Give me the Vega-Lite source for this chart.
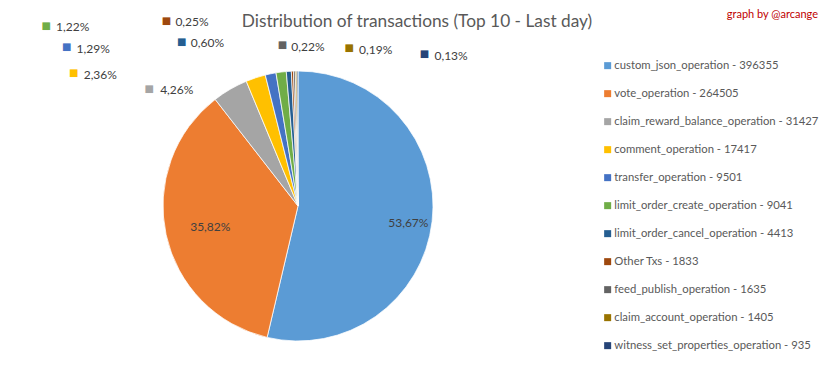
{
  "$schema": "https://vega.github.io/schema/vega-lite/v6.json",
  "width": 596,
  "height": 344,
  "autosize": "none",
  "padding": {"left": 0, "top": 34, "right": 236, "bottom": 1},
  "background": "white",
  "title": {
    "text": "Distribution of transactions (Top 10 - Last day)",
    "font": "Lato",
    "fontSize": 17.3,
    "fontWeight": "normal",
    "color": "#595959",
    "anchor": "middle",
    "frame": "group",
    "dx": 119,
    "offset": -21
  },
  "config": {"view": {"stroke": null}, "font": "Lato"},
  "data": {
    "values": [
      {"op": "custom_json_operation", "count": 396355, "pct": "53,67%", "legend": "custom_json_operation - 396355"},
      {"op": "vote_operation", "count": 264505, "pct": "35,82%", "legend": "vote_operation - 264505"},
      {"op": "claim_reward_balance_operation", "count": 31427, "pct": "4,26%", "legend": "claim_reward_balance_operation - 31427"},
      {"op": "comment_operation", "count": 17417, "pct": "2,36%", "legend": "comment_operation - 17417"},
      {"op": "transfer_operation", "count": 9501, "pct": "1,29%", "legend": "transfer_operation - 9501"},
      {"op": "limit_order_create_operation", "count": 9041, "pct": "1,22%", "legend": "limit_order_create_operation - 9041"},
      {"op": "limit_order_cancel_operation", "count": 4413, "pct": "0,60%", "legend": "limit_order_cancel_operation - 4413"},
      {"op": "Other Txs", "count": 1833, "pct": "0,25%", "legend": "Other Txs - 1833"},
      {"op": "feed_publish_operation", "count": 1635, "pct": "0,22%", "legend": "feed_publish_operation - 1635"},
      {"op": "claim_account_operation", "count": 1405, "pct": "0,19%", "legend": "claim_account_operation - 1405"},
      {"op": "witness_set_properties_operation", "count": 935, "pct": "0,13%", "legend": "witness_set_properties_operation - 935"}
    ]
  },
  "encoding": {
    "theta": {"field": "count", "type": "quantitative", "stack": true},
    "order": {"field": "count", "type": "quantitative", "sort": "descending"}
  },
  "layer": [
    {
      "mark": {"type": "arc", "radius": 135, "stroke": "white", "strokeWidth": 0.75},
      "encoding": {
        "color": {
          "field": "legend",
          "type": "nominal",
          "scale": {
            "domain": [
              "custom_json_operation - 396355",
              "vote_operation - 264505",
              "claim_reward_balance_operation - 31427",
              "comment_operation - 17417",
              "transfer_operation - 9501",
              "limit_order_create_operation - 9041",
              "limit_order_cancel_operation - 4413",
              "Other Txs - 1833",
              "feed_publish_operation - 1635",
              "claim_account_operation - 1405",
              "witness_set_properties_operation - 935"
            ],
            "range": ["#5B9BD5", "#ED7D31", "#A5A5A5", "#FFC000", "#4472C4", "#70AD47", "#255E91", "#9E480E", "#636363", "#997300", "#264478"]
          },
          "legend": {
            "orient": "none",
            "legendX": 602,
            "legendY": -25,
            "title": "graph by @arcange",
            "titleColor": "#C00000",
            "titleFont": "Lato",
            "titleFontSize": 11,
            "titleFontWeight": "normal",
            "titleAnchor": "end",
            "titleAlign": "right",
            "titlePadding": 40,
            "symbolType": "square",
            "symbolSize": 49,
            "symbolStrokeWidth": 0,
            "labelFont": "Lato",
            "labelFontSize": 11.3,
            "labelColor": "#595959",
            "labelOffset": 1,
            "rowPadding": 16,
            "labelLimit": 300
          }
        }
      }
    },
    {
      "mark": {
        "type": "text",
        "radius": 100,
        "align": "center",
        "baseline": "middle",
        "fontSize": 12,
        "fill": "#404040",
        "dx": {"expr": "datum.op == 'custom_json_operation' ? 11 : 10"},
        "dy": {"expr": "datum.op == 'custom_json_operation' ? 5 : 0"}
      },
      "encoding": {
        "text": {"field": "pct", "type": "nominal"},
        "opacity": {"condition": {"test": "datum.count > 100000", "value": 1}, "value": 0}
      }
    },
    {
      "mark": {
        "type": "text",
        "radius": 135,
        "align": "center",
        "baseline": "middle",
        "font": "DejaVu Sans",
        "fontSize": 10,
        "text": "■",
        "dx": {"expr": "{'claim_reward_balance_operation': -81, 'comment_operation': -182, 'transfer_operation': -204, 'limit_order_create_operation': -235, 'limit_order_cancel_operation': -107, 'Other Txs': -126, 'feed_publish_operation': -12, 'claim_account_operation': 53, 'witness_set_properties_operation': 127}[datum.op] || 0"},
        "dy": {"expr": "{'claim_reward_balance_operation': 0, 'comment_operation': -5, 'transfer_operation': -27, 'limit_order_create_operation': -46, 'limit_order_cancel_operation': -29, 'Other Txs': -50, 'feed_publish_operation': -26, 'claim_account_operation': -23, 'witness_set_properties_operation': -17}[datum.op] || 0"}
      },
      "encoding": {
        "color": {"field": "legend", "type": "nominal"},
        "opacity": {"condition": {"test": "datum.count < 100000", "value": 1}, "value": 0}
      }
    },
    {
      "mark": {
        "type": "text",
        "radius": 135,
        "align": "left",
        "baseline": "middle",
        "fontSize": 12,
        "fill": "#404040",
        "dx": {"expr": "{'claim_reward_balance_operation': -70, 'comment_operation': -172, 'transfer_operation': -194, 'limit_order_create_operation': -225, 'limit_order_cancel_operation': -98, 'Other Txs': -117, 'feed_publish_operation': -3, 'claim_account_operation': 63, 'witness_set_properties_operation': 137}[datum.op] || 0"},
        "dy": {"expr": "{'claim_reward_balance_operation': 1, 'comment_operation': -3, 'transfer_operation': -25, 'limit_order_create_operation': -45, 'limit_order_cancel_operation': -28, 'Other Txs': -49, 'feed_publish_operation': -24, 'claim_account_operation': -21, 'witness_set_properties_operation': -15}[datum.op] || 0"}
      },
      "encoding": {
        "text": {"field": "pct", "type": "nominal"},
        "opacity": {"condition": {"test": "datum.count < 100000", "value": 1}, "value": 0}
      }
    }
  ]
}
